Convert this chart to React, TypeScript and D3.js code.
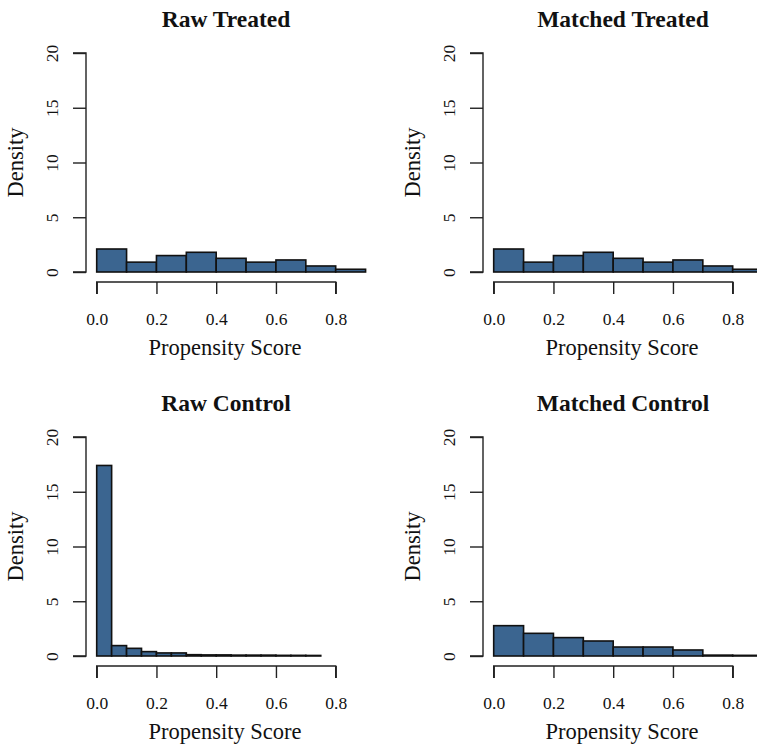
import React, { useRef, useEffect } from "react";
import * as d3 from "d3";

// histogram bin heights (density)
const breaks10 = [0, 0.1, 0.2, 0.3, 0.4, 0.5, 0.6, 0.7, 0.8, 0.9];
const breaks05 = [
  0, 0.05, 0.1, 0.15, 0.2, 0.25, 0.3, 0.35, 0.4, 0.45, 0.5, 0.55, 0.6, 0.65,
  0.7, 0.75, 0.8, 0.85, 0.9,
];
const rawTreated = [2.1, 0.9, 1.5, 1.8, 1.25, 0.9, 1.1, 0.55, 0.25];
const matchedTreated = [2.1, 0.9, 1.5, 1.8, 1.25, 0.9, 1.1, 0.55, 0.25];
const rawControl = [
  17.4, 0.95, 0.7, 0.4, 0.28, 0.28, 0.12, 0.1, 0.1, 0.08, 0.08, 0.08, 0.06,
  0.06, 0.05, 0, 0, 0,
];
const matchedControl = [2.77, 2.07, 1.68, 1.37, 0.82, 0.82, 0.55, 0.08, 0.06];

const xTicks = [0, 0.2, 0.4, 0.6, 0.8];
const yTicks = [0, 5, 10, 15, 20];

const panels = [
  { title: "Raw Treated", breaks: breaks10, values: rawTreated, col: 0, row: 0 },
  { title: "Matched Treated", breaks: breaks10, values: matchedTreated, col: 1, row: 0 },
  { title: "Raw Control", breaks: breaks05, values: rawControl, col: 0, row: 1 },
  { title: "Matched Control", breaks: breaks10, values: matchedControl, col: 1, row: 1 },
];

const FONT = "'Liberation Serif', 'DejaVu Serif', serif";

const App = () => {
  const svgRef = useRef<SVGSVGElement>(null);

  useEffect(() => {
    const w = 757;
    const h = 745;
    const svg = d3.select(svgRef.current).attr("width", w).attr("height", h);
    svg.selectAll("*").remove();

    panels.forEach((p) => {
      const g = svg
        .append("g")
        .attr("transform", `translate(${p.col * 397},${p.row * 384})`);

      const x = d3.scaleLinear().domain([0, 0.8]).range([96.7, 335.7]);
      const y = d3.scaleLinear().domain([0, 20]).range([272, 53]);

      // bars
      const bins = p.values.map((v, i) => ({ x0: p.breaks[i], x1: p.breaks[i + 1], v }));
      g.selectAll("rect.bar")
        .data(bins)
        .enter()
        .append("rect")
        .attr("class", "bar")
        .attr("x", (d) => x(d.x0))
        .attr("y", (d) => y(d.v))
        .attr("width", (d) => x(d.x1) - x(d.x0))
        .attr("height", (d) => y(0) - y(d.v))
        .attr("fill", "#3b6590")
        .attr("stroke", "#111")
        .attr("stroke-width", 1.6);

      // x axis
      const xAxis = d3.axisBottom(x).tickValues(xTicks).tickSize(12).tickPadding(19)
        .tickFormat(d3.format(".1f"));
      const xg = g.append("g").attr("transform", "translate(0,282)").call(xAxis)
        .attr("font-family", FONT)
        .attr("font-size", 17.5);
      xg.select(".domain").attr("d", `M${x(0)},12V0H${x(0.8)}V12`).attr("stroke", "#222").attr("stroke-width", 1.4);
      xg.selectAll(".tick line").attr("stroke", "#222").attr("stroke-width", 1.4);
      xg.selectAll(".tick text")
        .style("font-family", FONT)
        .style("font-size", "17.5px")
        .attr("fill", "#111");

      // y axis
      const yAxis = d3.axisLeft(y).tickValues(yTicks).tickSize(13).tickPadding(0);
      const yg = g.append("g").attr("transform", "translate(86,0)").call(yAxis)
        .attr("font-family", FONT)
        .attr("font-size", 17.5);
      yg.select(".domain").attr("d", `M-13,${y(0)}H0V${y(20)}H-13`).attr("stroke", "#222").attr("stroke-width", 1.4);
      yg.selectAll(".tick line").attr("stroke", "#222").attr("stroke-width", 1.4);
      yg.selectAll(".tick text")
        .style("font-family", FONT)
        .style("font-size", "17.5px")
        .attr("fill", "#111")
        .attr("x", null)
        .attr("dy", null)
        .attr("text-anchor", "middle")
        .attr("transform", "translate(-28,0) rotate(-90)");

      // labels
      g.append("text")
        .attr("x", 226)
        .attr("y", 27)
        .attr("text-anchor", "middle")
        .attr("font-family", FONT)
        .attr("font-weight", "bold")
        .attr("font-size", "23.5px")
        .attr("fill", "#111")
        .text(p.title);

      g.append("text")
        .attr("x", 225)
        .attr("y", 355)
        .attr("text-anchor", "middle")
        .attr("font-family", FONT)
        .attr("font-size", "22.5px")
        .attr("fill", "#111")
        .text("Propensity Score");

      g.append("text")
        .attr("transform", `translate(23,${y(10)}) rotate(-90)`)
        .attr("text-anchor", "middle")
        .attr("font-family", FONT)
        .attr("font-size", "22.5px")
        .attr("fill", "#111")
        .text("Density");
    });
  }, []);

  return (
    <svg
      ref={svgRef}
      style={{ position: "absolute", left: 0, top: 0, background: "#fff" }}
    ></svg>
  );
};

export default App;
